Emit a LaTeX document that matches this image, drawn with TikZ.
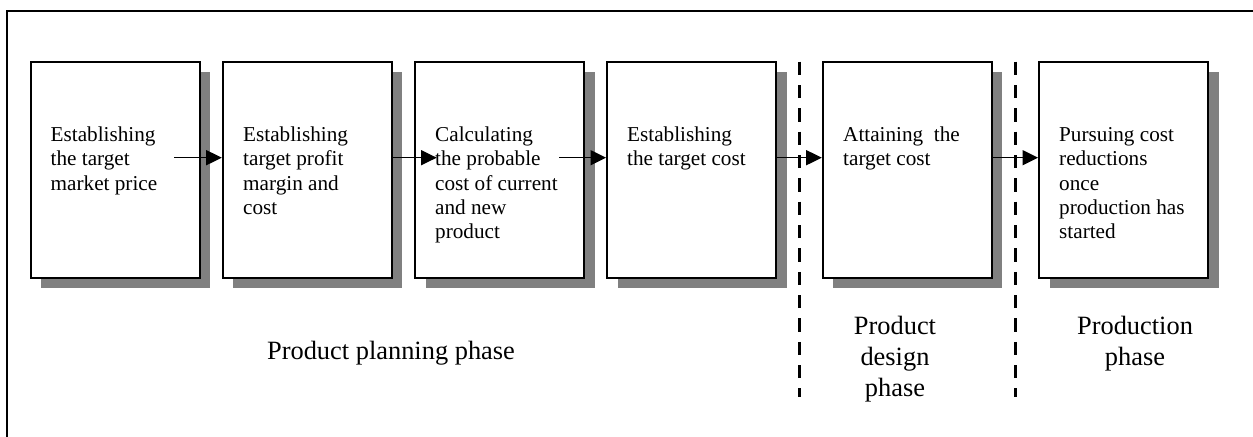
\documentclass[tikz,border=0pt]{standalone}
\usepackage{fontspec}
\setmainfont{Liberation Serif}
\usetikzlibrary{arrows.meta,shadows,calc}
\begin{document}
\begin{tikzpicture}[x=0.5pt,y=-0.5pt,
  stepbox/.style={draw, line width=0.9pt, fill=white, inner sep=0pt,
    minimum width=84.5pt, minimum height=108pt,
    drop shadow={shadow xshift=5.25pt, shadow yshift=-5.25pt, fill=black!50, opacity=1}},
  boxtext/.style={anchor=base west, inner sep=0pt, font=\fontsize{10.6}{12.2}\selectfont},
  phase/.style={anchor=base, inner sep=0pt, font=\fontsize{13.2}{15.35}\selectfont},
  flow/.style={line width=0.7pt, -{Triangle[length=7.8pt,width=7.5pt]}},
  divider/.style={line width=1.5pt, dash pattern=on 6.67pt off 5pt},
  frameline/.style={line width=0.75pt}]

% page area
\useasboundingbox (0,0) rectangle (1253,437);
\fill[white] (0,0) rectangle (1253,437);

% outer frame (top and left edges)
\coordinate (fr1) at (1253,11);
\coordinate (fr2) at (7,11);
\coordinate (fr3) at (7,437);
\draw[frameline] (fr1) -- (fr2) -- (fr3);

% process boxes
\node[stepbox] (b1) at (115.2,169.7) {};
\node[stepbox] (b2) at (307.2,169.7) {};
\node[stepbox] (b3) at (499.5,169.7) {};
\node[stepbox] (b4) at (691.5,169.7) {};
\node[stepbox] (b5) at (907.2,169.7) {};
\node[stepbox] (b6) at (1123.5,169.7) {};

% box texts
\node[boxtext] (t1) at ($(b1.north west)+(20.5,80.5)$) {\begin{tabular}[t]{@{}l@{}}Establishing\\the target\\market price\end{tabular}};
\node[boxtext] (t2) at ($(b2.north west)+(21,80.5)$) {\begin{tabular}[t]{@{}l@{}}Establishing\\target profit\\margin and\\cost\end{tabular}};
\node[boxtext] (t3) at ($(b3.north west)+(20.7,80.5)$) {\begin{tabular}[t]{@{}l@{}}Calculating\\the probable\\cost of current\\and new\\product\end{tabular}};
\node[boxtext] (t4) at ($(b4.north west)+(20.7,80.5)$) {\begin{tabular}[t]{@{}l@{}}Establishing\\the target cost\end{tabular}};
\node[boxtext] (t5) at ($(b5.north west)+(21,80.5)$) {\begin{tabular}[t]{@{}l@{}}Attaining\ \ the\\target cost\end{tabular}};
\node[boxtext] (t6) at ($(b6.north west)+(20.7,80.5)$) {\begin{tabular}[t]{@{}l@{}}Pursuing cost\\reductions\\once\\production has\\started\end{tabular}};

% phase dividers
\coordinate (d1t) at (799,61.7);
\coordinate (d1b) at (799,396.7);
\coordinate (d2t) at (1015,61.7);
\coordinate (d2b) at (1015,396.7);
\draw[divider] (d1t) -- (d1b);
\draw[divider] (d2t) -- (d2b);

% flow arrows
\coordinate (a1s) at (174.3,157.7);
\coordinate (a2e) at (436.7,157.7);
\coordinate (a3s) at (559,157.7);
\draw[flow] (a1s) -- (a1s -| b2.west);
\draw[flow] (b2.east |- a1s) -- (a2e);
\draw[flow] (a3s) -- (a3s -| b4.west);
\draw[flow] (b4.east |- a1s) -- (b5.west |- a1s);
\draw[flow] (b5.east |- a1s) -- (b6.west |- a1s);

% phase labels
\node[phase, anchor=base west] (p1) at (266.7,360) {Product planning phase};
\node[phase] (p2) at (895,335) {\begin{tabular}[t]{@{}c@{}}Product\\design\\phase\end{tabular}};
\node[phase] (p3) at (1135,335) {\begin{tabular}[t]{@{}c@{}}Production\\phase\end{tabular}};
\end{tikzpicture}
\end{document}
